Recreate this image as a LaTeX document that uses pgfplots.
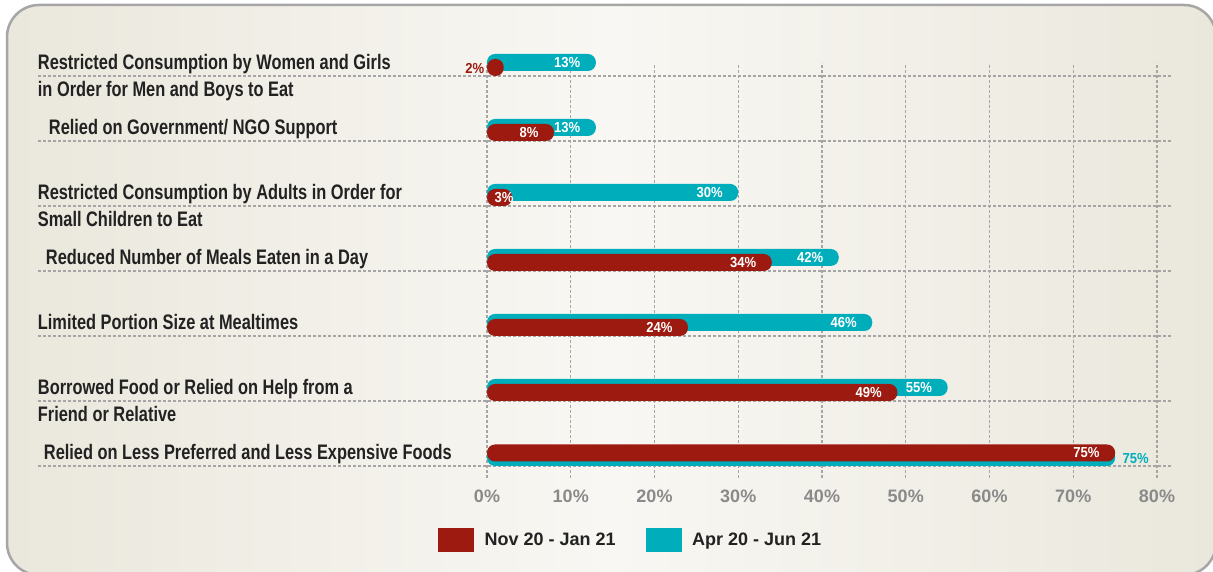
\documentclass[border=0pt]{standalone}
\usepackage{fontspec}
\setmainfont{Liberation Sans}
\newfontfamily\condfont[FakeStretch=0.78]{Liberation Sans Bold}
\newfontfamily\valfont[FakeStretch=0.9]{Liberation Sans Bold}
\newfontfamily\legfont{Liberation Sans Bold}
\usepackage{pgfplots}
\pgfplotsset{compat=1.18}
\definecolor{cmaroon}{HTML}{9D1A10}
\definecolor{cteal}{HTML}{00AEBB}
\definecolor{gridc}{HTML}{A5A5A5}
\definecolor{tickc}{HTML}{8A8A8A}
\definecolor{bgedge}{HTML}{EAE7DC}
\definecolor{bgmid}{HTML}{F8F7F3}
\definecolor{borderc}{HTML}{A6A6A6}
\definecolor{labc}{HTML}{222222}
\newcommand{\lab}[1]{\begin{tabular}[t]{@{}l@{}}#1\end{tabular}}
\begin{document}
\begin{tikzpicture}[x=1pt,y=1pt]
\fill[left color=bgedge, right color=bgedge, middle color=bgmid, rounded corners=32pt] (7,-3) rectangle (1216,567);
\draw[borderc, line width=2.5pt, rounded corners=32pt] (7,-3) rectangle (1216,567);
\begin{axis}[
  at={(487pt,94pt)}, anchor=south west,
  scale only axis, width=670pt, height=415pt,
  xmin=0, xmax=80, ymin=-0.1846, ymax=6.2,
  clip=false,
  axis line style={draw=none},
  major tick style={draw=none},
  /pgf/number format/assume math mode=true,
  xtick={0,10,20,30,40,50,60,70,80},
  xticklabels={0\%,10\%,20\%,30\%,40\%,50\%,60\%,70\%,80\%},
  xticklabel style={font=\fontsize{18}{20}\selectfont\legfont, text=tickc, anchor=base, yshift=-24.5pt},
  xmajorgrids,
  grid style={gridc, dash pattern=on 3pt off 2pt, line width=1.1pt},
  ytick={0,1,2,3,4,5,6},
  yticklabels={
    {\hspace{6pt}Relied on Less Preferred and Less Expensive Foods},
    {\lab{Borrowed Food or Relied on Help from a\\Friend or Relative}},
    {Limited Portion Size at Mealtimes},
    {\hspace{8pt}Reduced Number of Meals Eaten in a Day},
    {\lab{Restricted Consumption by Adults in Order for\\Small Children to Eat}},
    {\hspace{11pt}Relied on Government/ NGO Support},
    {\lab{Restricted Consumption by Women and Girls\\in Order for Men and Boys to Eat}}},
  yticklabel style={anchor=base west, inner sep=0pt, xshift=-445pt, yshift=6pt,
    font=\fontsize{21}{27}\selectfont\condfont, text=labc},
  xbar, bar width=17pt,
  nodes near coords={\pgfmathprintnumber{\pgfplotspointmeta}\%},
  every node near coord/.append style={font=\fontsize{14.5}{16}\selectfont\valfont, text=white, anchor=east, xshift=-12pt},
  legend columns=2,
  legend style={draw=none, fill=none, inner sep=0pt, at={(-0.0731,-0.1482)}, anchor=west,
    font=\fontsize{18}{20}\selectfont\legfont, text=labc,
    /tikz/every odd column/.append style={column sep=9pt},
    /tikz/every even column/.append style={column sep=28pt}},
]
\pgfplotsinvokeforeach{0,...,6}{
  \draw[gridc, dash pattern=on 3pt off 2pt, line width=1.1pt] (axis cs:-53.6,#1) -- (axis cs:81.9,#1);
}
% Apr 20 - Jun 21 (teal)
\addplot[forget plot, fill=cteal, draw=none, rounded corners=8pt, bar shift=13.5pt]
  coordinates {(13,6) (13,5) (30,4) (42,3) (46,2) (55,1)};
\addplot[forget plot, fill=cteal, draw=none, rounded corners=8pt, bar shift=8.5pt,
  every node near coord/.append style={text=cteal, anchor=west, xshift=16pt, yshift=-1.5pt}]
  coordinates {(75,0)};
% Nov 20 - Jan 21 (maroon)
\addplot[forget plot, fill=cmaroon, draw=none, rounded corners=8pt, bar shift=8.5pt]
  coordinates {(8,5) (34,3) (24,2) (49,1)};
\addplot[forget plot, fill=cmaroon, draw=none, rounded corners=8pt, bar shift=8.5pt,
  every node near coord/.append style={xshift=17pt}]
  coordinates {(3,4)};
\addplot[forget plot, fill=cmaroon, draw=none, rounded corners=8pt, bar shift=8.5pt,
  every node near coord/.append style={text=cmaroon, xshift=-4pt, yshift=-1pt}]
  coordinates {(2,6)};
\addplot[forget plot, fill=cmaroon, draw=none, rounded corners=8pt, bar shift=13pt]
  coordinates {(75,0)};
\addlegendimage{legend image code/.code={\fill[cmaroon] (0pt,-11.5pt) rectangle (35pt,11.5pt);}}
\addlegendentry{Nov 20 - Jan 21}
\addlegendimage{legend image code/.code={\fill[cteal] (0pt,-11.5pt) rectangle (35pt,11.5pt);}}
\addlegendentry{Apr 20 - Jun 21}
\end{axis}
\pgfresetboundingbox
\useasboundingbox (0,0) rectangle (1213,572);
\end{tikzpicture}
\end{document}
